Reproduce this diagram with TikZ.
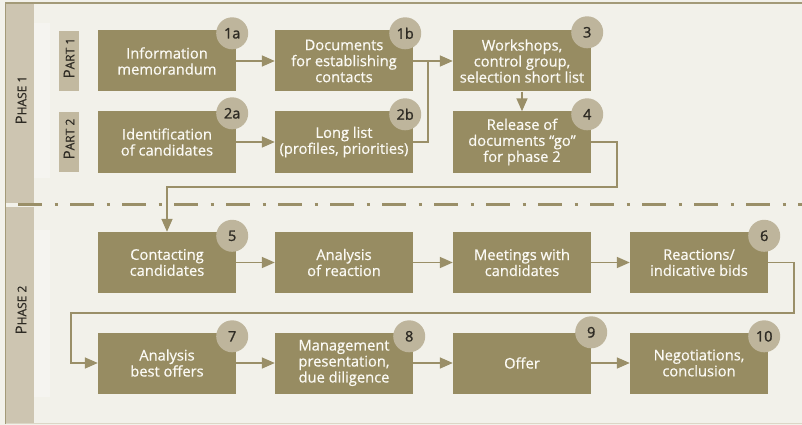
\documentclass[tikz,border=0pt]{standalone}
\usepackage{fontspec}
\setmainfont{Open Sans}
\newfontfamily\stepfont[FakeBold=0.6]{Open Sans}
\newfontfamily\numfont[FakeBold=1.4]{Open Sans}
\usetikzlibrary{arrows.meta}

\definecolor{pagebg}{HTML}{F2F1EA}
\definecolor{stripbg}{HTML}{F5F4F0}
\definecolor{phasecol}{HTML}{CDC5B1}
\definecolor{partcol}{HTML}{C2B9A0}
\definecolor{boxcol}{HTML}{978C62}
\definecolor{badgecol}{HTML}{BEB59C}
\definecolor{framecol}{HTML}{A39A78}
\definecolor{lowline}{HTML}{DCD6C6}
\definecolor{linecol}{HTML}{9A8F68}
\definecolor{darktext}{HTML}{2E2B24}
\definecolor{boxtext}{HTML}{FBFAF4}

% small-caps look: large initial, smaller remaining letters
\newcommand\capsword[2]{{\stepfont\fontsize{15}{15}\selectfont #1}{\stepfont\fontsize{12}{12}\selectfont #2}}

\tikzset{
  stepbox/.style={rectangle, fill=boxcol, text=boxtext, minimum width=138pt,
    minimum height=61pt, inner sep=0pt, align=center,
    font=\stepfont\fontsize{14.7}{16}\selectfont},
  badge/.style={circle, fill=badgecol, text=darktext, minimum size=32pt,
    inner sep=0pt, font=\numfont\fontsize{14.5}{14.5}\selectfont},
  partbox/.style={rectangle, fill=partcol, text=darktext, minimum width=20pt,
    minimum height=60pt, inner sep=0pt},
  phaselabel/.style={text=darktext, rotate=90, inner sep=0pt},
  flow/.style={draw=linecol, line width=1.6pt, -{Triangle[length=13pt,width=11pt]}},
  sepline/.style={draw=linecol, line width=3pt,
    dash pattern=on 24pt off 12.5pt on 3pt off 12.5pt}
}

\begin{document}
\begin{tikzpicture}[x=1pt,y=-1pt]
\useasboundingbox (0,0) rectangle (802,425);
\fill[pagebg] (0,0) rectangle (802,425);

% phase columns and light strips beside them
\fill[phasecol] (5.5,3) rectangle (33.5,202.5);
\fill[phasecol] (5.5,206.5) rectangle (33.5,423);
\fill[stripbg] (33.5,23) rectangle (50,178);
\fill[stripbg] (33.5,230) rectangle (50,397);

% frame
\draw[lowline, line width=1.2pt] (5.5,423.5) -- (802,423.5);
\draw[framecol, line width=1.5pt] (802,3) -- (5.5,3) -- (5.5,424);

% separator between the phases
\draw[sepline] (18,204.5) -- (802,204.5);

% phase and part labels
\node[phaselabel] (ph1) at (21,100) {\capsword{P}{HASE 1}};
\node[phaselabel] (ph2) at (21,310) {\capsword{P}{HASE 2}};
\node[partbox] (pt1) at (69,61) {};
\node[partbox] (pt2) at (69,142) {};
\node[phaselabel] at ([yshift=3]pt1) {\capsword{P}{ART 1}};
\node[phaselabel] at ([yshift=3]pt2) {\capsword{P}{ART 2}};

% phase 1 steps
\node[stepbox] (b1a) at (167,61)  {Information\\memorandum};
\node[stepbox] (b1b) at (344,61)  {Documents\\for establishing\\contacts};
\node[stepbox] (b3)  at (522,61)  {Workshops,\\control group,\\selection short list};
\node[stepbox] (b2a) at (167,142) {Identification\\of candidates};
\node[stepbox] (b2b) at (344,142) {Long list\\(profiles, priorities)};
\node[stepbox] (b4)  at (522,142) {Release of\\documents “go”\\for phase 2};

% phase 2 steps
\node[stepbox] (b5)  at (167,262.5) {Contacting\\candidates};
\node[stepbox] (ban) at (344,262.5) {Analysis\\of reaction};
\node[stepbox] (bme) at (522,262.5) {Meetings with\\candidates};
\node[stepbox] (b6)  at (699,262.5) {Reactions/\\indicative bids};
\node[stepbox] (b7)  at (167,363) {Analysis\\best offers};
\node[stepbox] (b8)  at (344,363) {Management\\presentation,\\due diligence};
\node[stepbox] (b9)  at (522,363) {Offer};
\node[stepbox] (b10) at (699,363) {Negotiations,\\conclusion};

% numbered badges
\node[badge] (n1a) at ([shift={(-4,3)}]b1a.north east) {1a};
\node[badge] (n1b) at ([shift={(-8,3)}]b1b.north east) {1b};
\node[badge] (n3)  at ([shift={(-4,2)}]b3.north east)  {3};
\node[badge] (n2a) at ([shift={(-4,2)}]b2a.north east) {2a};
\node[badge] (n2b) at ([shift={(-8,3)}]b2b.north east) {2b};
\node[badge] (n4)  at ([shift={(-4,3)}]b4.north east)  {4};
\node[badge] (n5)  at ([shift={(-4,4)}]b5.north east)  {5};
\node[badge] (n6)  at ([shift={(-4,4)}]b6.north east)  {6};
\node[badge] (n7)  at ([shift={(-4,4)}]b7.north east)  {7};
\node[badge] (n8)  at ([shift={(-4,4)}]b8.north east)  {8};
\node[badge] (n9)  at ([shift={(0,0)}]b9.north east)   {9};
\node[badge] (n10) at ([shift={(-4,4)}]b10.north east) {10};

% routing points
\coordinate (j1) at (428,61);
\coordinate (r4a) at (617,142);
\coordinate (r4b) at (617,187);
\coordinate (r4c) at (167,187);
\coordinate (r6a) at (794,262.5);
\coordinate (r6b) at (794,313);
\coordinate (r6c) at (71,313);
\coordinate (r6d) at (71,363);

% connectors
\draw[flow] (b1a) -- (b1b);
\draw[flow] (b2a) -- (b2b);
\draw[flow] (b1b) -- (b3);
\draw[draw=linecol, line width=1.6pt] (b2b.east) -| (j1);
\draw[flow] (b3) -- (b4);
\draw[flow] (b4.east) -- (r4a) -- (r4b) -- (r4c) -- (b5.north);
\draw[flow] (b5) -- (ban);
\draw[flow] (ban) -- (bme);
\draw[flow] (bme) -- (b6);
\draw[flow] (b6.east) -- (r6a) -- (r6b) -- (r6c) -- (r6d) -- (b7.west);
\draw[flow] (b7) -- (b8);
\draw[flow] (b8) -- (b9);
\draw[flow] (b9) -- (b10);
\end{tikzpicture}
\end{document}
